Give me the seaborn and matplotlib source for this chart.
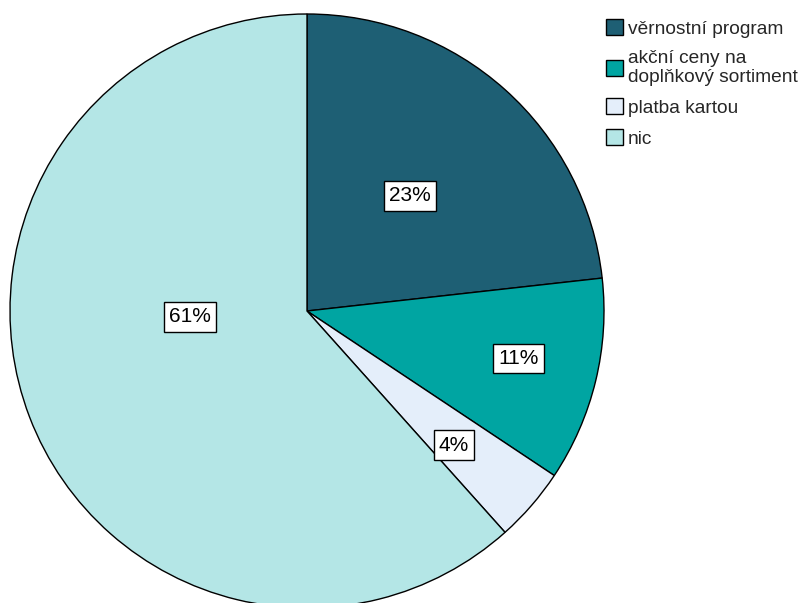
import numpy as np
import matplotlib
matplotlib.use("Agg")
import matplotlib.pyplot as plt
import seaborn as sns

# Survey answers and their shares (%)
categories = ["věrnostní program", "akční ceny na\ndoplňkový sortiment", "platba kartou", "nic"]
shares = [23, 11, 4, 61]
slice_colors = ["#1e5f74", "#00a5a2", "#e4eefa", "#b4e6e6"]

# Placement of the percentage boxes: radial fraction and angular nudge (deg)
label_radius = [0.52, 0.73, 0.67, 0.395]
label_nudge = [0.0, 1.0, -1.5, -18.0]

sns.set_theme(style="white")
plt.rcParams["font.family"] = ["Liberation Sans", "DejaVu Sans"]
palette = sns.color_palette(slice_colors)

W, H = 804, 603
fig = plt.figure(figsize=(W / 100, H / 100), dpi=100)
R = 297
cx, cy = 307, 311
ax = fig.add_axes([(cx - R) / W, (H - cy - R) / H, 2 * R / W, 2 * R / H])

wedges, _ = ax.pie(
    shares,
    colors=palette,
    startangle=90,
    counterclock=False,
    radius=1.0,
    wedgeprops=dict(edgecolor="black", linewidth=1.0),
)
ax.set_xlim(-1, 1)
ax.set_ylim(-1, 1)
ax.set_aspect("equal")
ax.axis("off")

total = sum(shares)
cum = 0.0
for val, r, nudge in zip(shares, label_radius, label_nudge):
    mid = 90 - (cum + val / 2) / total * 360 + nudge
    cum += val
    th = np.deg2rad(mid)
    ax.text(r * np.cos(th), r * np.sin(th), f"{val}%",
            ha="center", va="center", fontsize=15, color="black",
            bbox=dict(boxstyle="square,pad=0.25", facecolor="white",
                      edgecolor="black", linewidth=1.0))

leg = fig.legend(
    wedges, categories,
    loc="upper left", bbox_to_anchor=(606 / W, 1 - 19 / H),
    frameon=False, fontsize=13.8,
    handlelength=0.9, handleheight=0.9, handletextpad=0.25,
    labelspacing=0.63, borderaxespad=0.0, borderpad=0.0,
)
for t in leg.get_texts():
    t.set_linespacing(1.2)

fig.savefig("out.png", dpi=100, facecolor="white")
